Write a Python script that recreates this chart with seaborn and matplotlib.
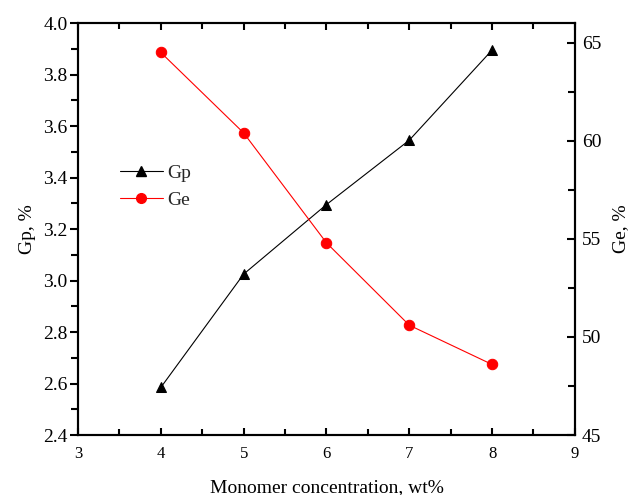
import matplotlib
matplotlib.use("Agg")
import matplotlib.pyplot as plt
import seaborn as sns
import pandas as pd
from matplotlib.ticker import MultipleLocator
from matplotlib.lines import Line2D

conc = [4, 5, 6, 7, 8]
gp = [2.585, 3.025, 3.295, 3.545, 3.895]
ge = [64.5, 60.4, 54.8, 50.6, 48.6]

sns.set_theme(style="white")
plt.rcParams['font.family'] = ['Liberation Serif', 'DejaVu Serif']
plt.rcParams['mathtext.fontset'] = 'stix'

df = pd.DataFrame({"conc": conc, "gp": gp, "ge": ge})

fig = plt.figure(figsize=(6.29, 4.95), dpi=100)
ax = fig.add_axes([0.124, 0.121, 0.790, 0.8325])
ax2 = ax.twinx()

sns.lineplot(data=df, x="conc", y="gp", ax=ax, color="black", marker="^",
             markersize=7.5, markeredgecolor="black", linewidth=0.8, legend=False)
sns.lineplot(data=df, x="conc", y="ge", ax=ax2, color="#ff0000", marker="o",
             markersize=7.5, markeredgecolor="#ff0000", linewidth=0.8, legend=False)

ax.set_xlim(3, 9)
ax.set_ylim(2.4, 4.0)
ax2.set_ylim(45, 66)
ax.xaxis.set_major_locator(MultipleLocator(1))
ax.xaxis.set_minor_locator(MultipleLocator(0.5))
ax.yaxis.set_major_locator(MultipleLocator(0.2))
ax.yaxis.set_minor_locator(MultipleLocator(0.1))
ax2.yaxis.set_major_locator(MultipleLocator(5))
ax2.yaxis.set_minor_locator(MultipleLocator(2.5))
ax.yaxis.set_major_formatter(matplotlib.ticker.FormatStrFormatter('%.1f'))

for a in (ax, ax2):
    for s in a.spines.values():
        s.set_linewidth(1.5)
        s.set_color("black")

ax.tick_params(axis='x', which='both', direction='in', top=True, bottom=True,
               labelsize=12, width=1.5, colors='black', pad=8)
ax.tick_params(axis='x', which='major', length=5)
ax.tick_params(axis='x', which='minor', length=4)
ax.tick_params(axis='y', which='both', direction='out', left=True, labelsize=14,
               width=1.5, colors='black', pad=1.5)
ax.tick_params(axis='y', which='major', length=6)
ax.tick_params(axis='y', which='minor', length=5)
ax2.tick_params(axis='y', which='both', direction='in', right=True, labelsize=14,
                width=1.5, colors='black', pad=5)
ax2.tick_params(axis='y', which='major', length=6)
ax2.tick_params(axis='y', which='minor', length=5)

ax.set_xlabel("Monomer concentration, wt%", fontsize=14, color='black', labelpad=12)
ax.set_ylabel("Gp, %", fontsize=14, color='black', labelpad=5)
ax2.set_ylabel("Ge, %", fontsize=14, color='black', labelpad=8)

handles = [
    Line2D([], [], color="black", marker="^", markersize=7, linewidth=0.8, label="Gp"),
    Line2D([], [], color="#ff0000", marker="o", markersize=7, linewidth=0.8, label="Ge"),
]
ax.legend(handles=handles, loc="center left", bbox_to_anchor=(0.069, 0.603),
          frameon=False, fontsize=14, handlelength=2.2, handletextpad=0.25,
          labelspacing=0.45, borderaxespad=0)

fig.savefig("out.png", dpi=100)
